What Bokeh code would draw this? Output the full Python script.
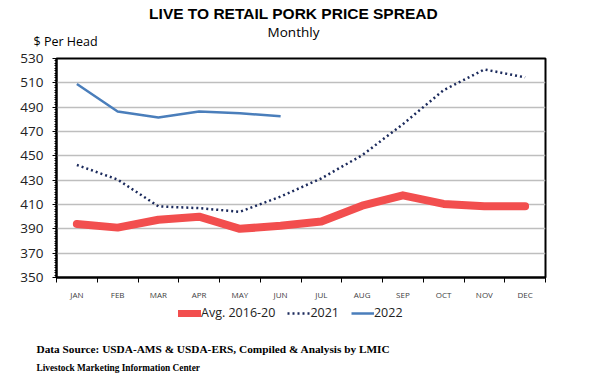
from bokeh.plotting import figure
from bokeh.models import Legend, LegendItem, FixedTicker, Range1d, Label
from bokeh.layouts import column
from bokeh.embed import file_html
from bokeh.resources import INLINE

months = ["JAN", "FEB", "MAR", "APR", "MAY", "JUN", "JUL", "AUG", "SEP", "OCT", "NOV", "DEC"]
avg_2016_20 = [394, 391, 397.5, 400, 390, 392.5, 396, 409, 417.5, 410.5, 408.5, 408.5]
y2021 = [442.5, 430.5, 408.5, 407, 404, 416.5, 431.5, 450.5, 476, 504, 521, 514.5]
y2022 = [509, 486.5, 481.5, 486.5, 485, 482.5]
y_ticks = [350, 370, 390, 410, 430, 450, 470, 490, 510, 530]

title_text = "LIVE TO RETAIL PORK PRICE SPREAD"
subtitle_text = "Monthly"
unit_text = "$ Per Head"
source_text = "Data Source:  USDA-AMS & USDA-ERS, Compiled & Analysis by LMIC"
org_text = "Livestock Marketing Information  Center"

RED, NAVY, BLUE = "#F24E4E", "#1B2A5C", "#4A7EBB"

xs_all = [i + 0.5 for i in range(len(months))]


def blank(h):
    f = figure(width=606, height=h, output_backend="svg", toolbar_location=None,
               x_range=Range1d(0, 606), y_range=Range1d(h, 0),
               x_axis_type=None, y_axis_type=None, min_border=0,
               min_border_left=0, min_border_right=0, min_border_top=0, min_border_bottom=0)
    f.frame_align = False
    f.outline_line_color = None
    f.grid.grid_line_color = None
    f.background_fill_color = "white"
    f.border_fill_color = "white"
    return f


def add_label(f, text, x, y, size, font, style="normal", align="left"):
    f.add_layout(Label(x=x, y=y, text=text, text_font=font, text_font_size=size,
                       text_font_style=style, text_align=align, text_baseline="middle",
                       text_color="black"))

# ---------- header ----------
header = blank(49)
add_label(header, title_text, 293, 13, "15.5px", "Liberation Sans", style="bold", align="center")
add_label(header, subtitle_text, 293, 31, "13.5px", "Open Sans", align="center")
add_label(header, unit_text, 33, 40.5, "12.5px", "Open Sans")

# ---------- main chart ----------
p = figure(width=606, height=253, output_backend="svg", toolbar_location=None,
           x_range=Range1d(0, 12), y_range=Range1d(350, 530),
           min_border_left=56, min_border_right=61, min_border_top=9, min_border_bottom=20)
p.frame_align = False
p.background_fill_color = "white"
p.border_fill_color = "white"
p.outline_line_color = "black"
p.outline_line_width = 2

p.xgrid.grid_line_color = None
p.ygrid.grid_line_color = "#BEBEBE"
p.ygrid.grid_line_width = 1.5

p.yaxis.ticker = FixedTicker(ticks=y_ticks, minor_ticks=list(range(350, 531, 2)))
p.yaxis.axis_line_color = "black"
p.yaxis.axis_line_width = 2
p.yaxis.major_tick_out = 4
p.yaxis.major_tick_in = 0
p.yaxis.minor_tick_out = 2
p.yaxis.minor_tick_in = 0
p.yaxis.major_tick_line_color = "black"
p.yaxis.minor_tick_line_color = "black"
p.yaxis.major_label_standoff = 9
p.yaxis.major_label_text_font = "Open Sans"
p.yaxis.major_label_text_font_size = "13.5px"
p.yaxis.major_label_text_color = "#222222"

p.xaxis.ticker = FixedTicker(ticks=xs_all, minor_ticks=list(range(0, 13)))
p.xaxis.major_label_overrides = {x: m for x, m in zip(xs_all, months)}
p.xaxis.axis_line_color = "black"
p.xaxis.axis_line_width = 2
p.xaxis.major_tick_line_color = None
p.xaxis.major_tick_out = 0
p.xaxis.major_tick_in = 0
p.xaxis.minor_tick_line_color = "black"
p.xaxis.minor_tick_out = 5
p.xaxis.minor_tick_in = 0
p.xaxis.major_label_standoff = 6
p.xaxis.major_label_text_font = "Open Sans"
p.xaxis.major_label_text_font_size = "8px"
p.xaxis.major_label_text_color = "#404040"

p.line(xs_all, avg_2016_20, line_color=RED, line_width=8, line_cap="round", line_join="round")
p.line(xs_all, y2021, line_color=NAVY, line_width=2.5, line_dash="2 3")
p.line(xs_all[:len(y2022)], y2022, line_color=BLUE, line_width=2.5)

# ---------- footer: legend + source ----------
footer = blank(76)
nan = [float("nan")]
l_avg = footer.line(nan, nan, line_color=RED, line_width=7, line_cap="round")
l21 = footer.line(nan, nan, line_color=NAVY, line_width=2.5, line_dash="2 3")
l22 = footer.line(nan, nan, line_color=BLUE, line_width=2.5)
legend = Legend(items=[LegendItem(label="Avg. 2016-20", renderers=[l_avg]),
                       LegendItem(label="2021", renderers=[l21]),
                       LegendItem(label="2022", renderers=[l22])],
                orientation="horizontal", location=(178, 57),
                border_line_color=None, background_fill_alpha=0,
                glyph_width=23, glyph_height=14, label_standoff=0, spacing=12,
                padding=2, margin=0,
                label_text_font="Open Sans", label_text_font_size="12.5px",
                label_text_color="#222222")
footer.add_layout(legend, "center")
add_label(footer, source_text, 36, 46, "11.3px", "Liberation Serif", style="bold")
add_label(footer, org_text, 36, 65, "9.3px", "Liberation Serif", style="bold")

layout = column(header, p, footer, spacing=0)
open("out.html", "w").write(file_html(layout, INLINE))
